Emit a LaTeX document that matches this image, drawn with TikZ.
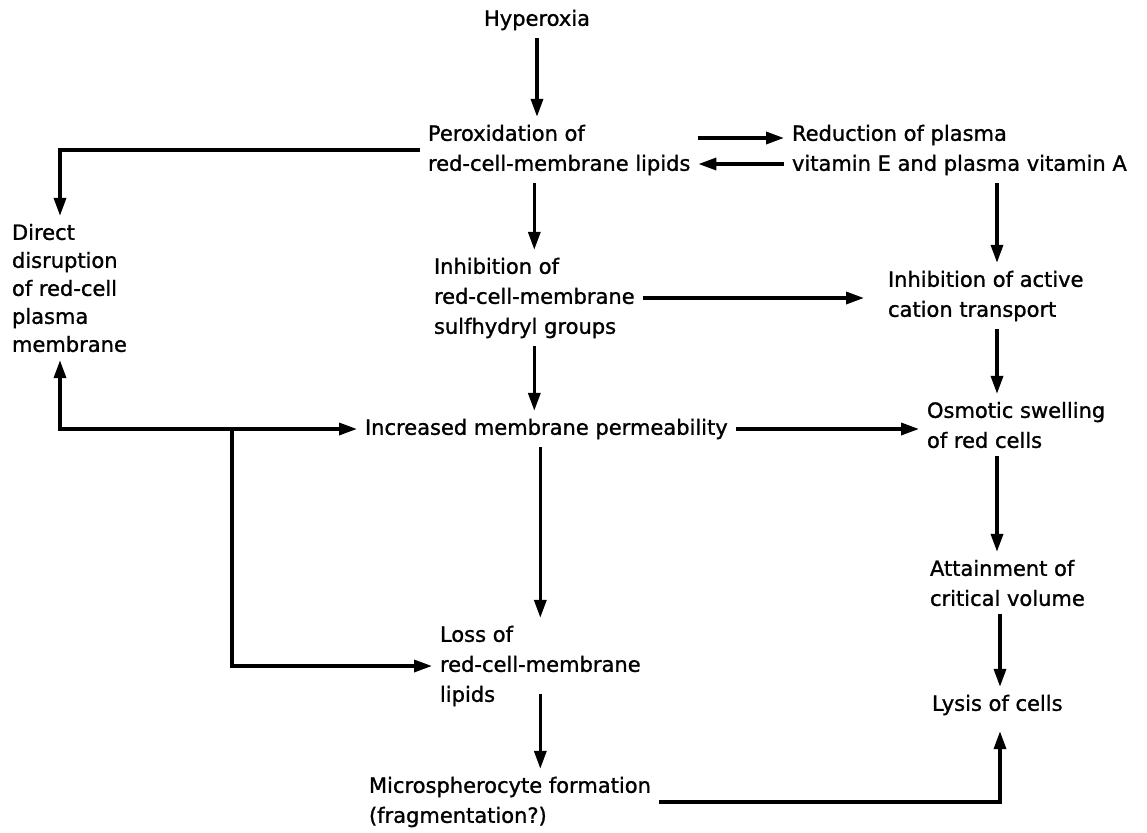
\documentclass[tikz,border=0pt]{standalone}
\usepackage{fontspec}
\setmainfont{DejaVu Sans}
\newfontface\lblfont{DejaVu Sans}[RawFeature={embolden=1.2}]
\usetikzlibrary{arrows.meta,calc}
\begin{document}
\begin{tikzpicture}[x=0.5pt,y=-0.5pt,
  lbl/.style={font=\lblfont\fontsize{10.5pt}{15pt}\selectfont, inner sep=0pt, outer sep=4pt, align=left, anchor=west},
  arr/.style={line width=1.7pt, -{Triangle[length=9pt,width=6pt]}},
  arrs/.style={line width=1.7pt, {Triangle[length=9pt,width=6pt]}-{Triangle[length=9pt,width=6pt]}}]
\useasboundingbox (0,0) rectangle (1147,832);
\node[lbl, anchor=center] (hyp) at (537,20) {Hyperoxia};
\node[lbl] (per) at (420,150) {Peroxidation of\\red-cell-membrane lipids};
\node[lbl] (red) at (784,150) {Reduction of plasma\\vitamin E and plasma vitamin A};
\node[lbl, font=\lblfont\fontsize{10.5pt}{14pt}\selectfont] (dir) at (4,288) {Direct\\disruption\\of red-cell\\plasma\\membrane};
\node[lbl] (inh) at (426,298) {Inhibition of\\red-cell-membrane\\sulfhydryl groups};
\node[lbl] (act) at (880,296) {Inhibition of active\\cation transport};
\node[lbl] (inc) at (357,429) {Increased membrane permeability};
\node[lbl] (osm) at (919,425) {Osmotic swelling\\of red cells};
\node[lbl] (att) at (922,583) {Attainment of\\critical volume};
\node[lbl] (lys) at (924,705) {Lysis of cells};
\node[lbl] (los) at (432,666) {Loss of\\red-cell-membrane\\lipids};
\node[lbl] (mic) at (361,802) {Microspherocyte formation\\(fragmentation?)};
\coordinate (j1) at (60,429);
\coordinate (j2) at (232,429);
\coordinate (cr) at (997,0);
\coordinate (cl) at (1000,0);
% connectors
\draw[arr] (hyp.south) -- (hyp.south |- per.north);
\draw[arr] ($(per.east)+(0,-12)$) -- ($(red.west)+(0,-12)$);
\draw[arr] ($(red.west)+(0,14)$) -- ($(per.east)+(0,14)$);
\draw[arr] (per.west) -| ($(dir.north west)+(56,0)$);
\draw[arrs] (dir.south -| j1) -- (j1) -- (inc.west);
\draw[arr] (j2) |- (los.west);
\draw[arr] (inh.north |- per.south) -- (inh.north);
\draw[arr, shorten >=8pt] (inh.east) -- (inh.east -| act.west);
\draw[arr] (cr |- red.south) -- (cr |- act.north);
\draw[arr] (cr |- act.south) -- (cr |- osm.north);
\draw[arr] (inc.east) -- (inc.east -| osm.west);
\draw[arr] (cr |- osm.south) -- (cr |- att.north);
\draw[arr] (cl |- att.south) -- (cl |- lys.north);
\draw[arr] (inh.south) -- (inh.south |- inc.north);
\draw[arr] (los.north |- inc.south) -- (los.north);
\draw[arr] ([yshift=10pt]los.south) -- (los.south |- mic.north);
\draw[arr] (mic.east) -| ([yshift=-4pt]cl |- lys.south);
\end{tikzpicture}
\end{document}
